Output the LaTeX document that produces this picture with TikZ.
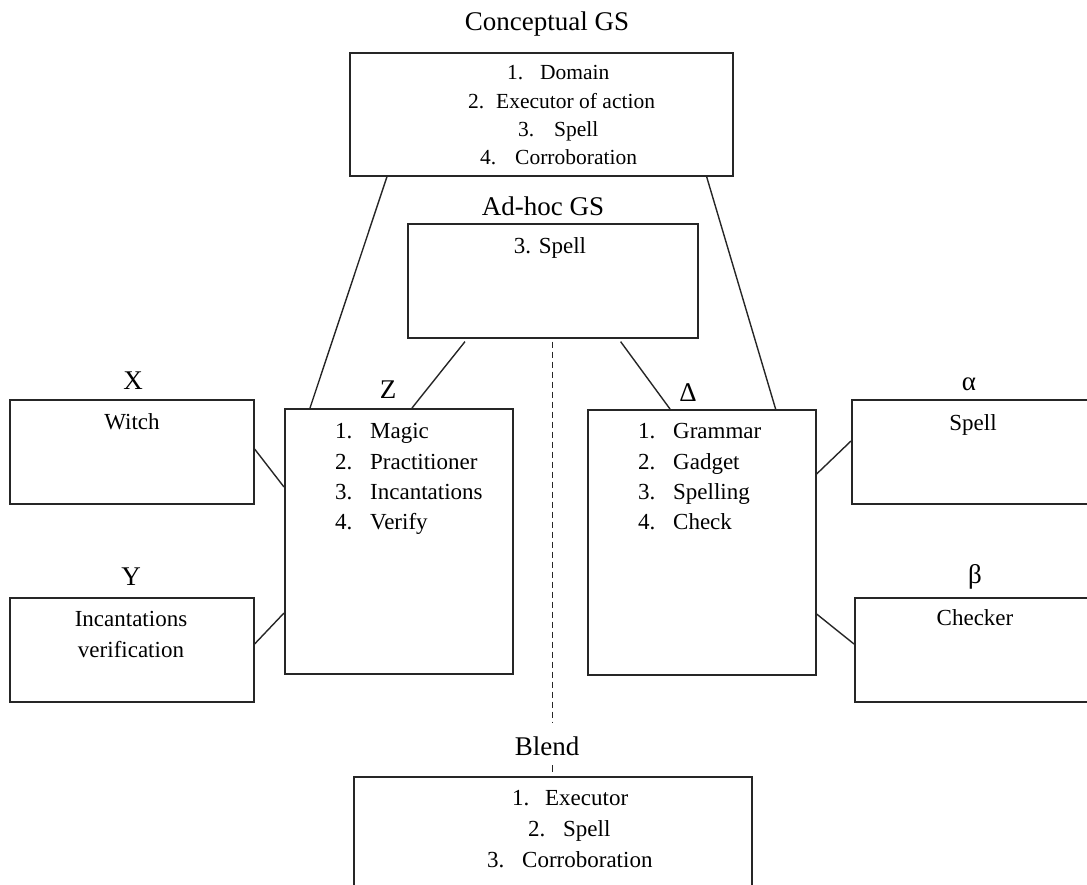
\documentclass[tikz,border=0pt]{standalone}
\usepackage{fontspec}
\setmainfont{Liberation Serif}
% a numbered list line: number in a fixed-width slot, then the text
\newcommand\numitem[3]{\makebox[#1][l]{#2}#3}
\begin{document}
\begin{tikzpicture}[x=1pt,y=-1pt,
  box/.style={draw=black!85, line width=1.6pt, inner sep=0pt, anchor=north west},
  link/.style={draw=black!85, line width=1.4pt},
  title/.style={font=\fontsize{27}{32}\selectfont, anchor=base, inner sep=0pt},
  body/.style={font=\fontsize{23}{31}\selectfont, anchor=base, inner sep=0pt, align=center},
  listline/.style={font=\fontsize{23}{31}\selectfont, anchor=base west, inner sep=0pt},
  conline/.style={font=\fontsize{21.5}{28}\selectfont, anchor=base west, inner sep=0pt}]
\clip (0,0) rectangle (1087,884);

% boxes
\node[box, minimum width=383pt, minimum height=123pt] (concept) at (349,52) {};
\node[box, minimum width=290pt, minimum height=114pt] (adhoc) at (407,223) {};
\node[box, minimum width=244pt, minimum height=104pt] (X) at (9,399) {};
\node[box, minimum width=244pt, minimum height=104pt] (Y) at (9,597) {};
\node[box, minimum width=228pt, minimum height=265pt] (Z) at (284,408) {};
\node[box, minimum width=228pt, minimum height=265pt] (D) at (587,409) {};
\node[box, minimum width=260pt, minimum height=104pt] (alpha) at (851,399) {};
\node[box, minimum width=260pt, minimum height=104pt] (beta) at (854,597) {};
\node[box, minimum width=398pt, minimum height=140pt] (blend) at (353,776) {};

% titles
\node[title] (tconcept) at (547,30) {Conceptual GS};
\node[title] (tadhoc) at (543,215) {Ad-hoc GS};
\node[title] (tX) at (133,389) {X};
\node[title] (tY) at (131,585) {Y};
\node[title] (tZ) at (388,398) {Z};
\node[title] (tD) at (688,401) {Δ};
\node[title] (talpha) at (969,390) {α};
\node[title] (tbeta) at (975,583) {β};
\node[title, inner ysep=3pt] (tblend) at (547,755) {Blend};

% box contents
\node[conline] (c1) at (507,79) {\numitem{33pt}{1.}{Domain}};
\node[conline] (c2) at (468,108) {\numitem{28pt}{2.}{Executor of action}};
\node[conline] (c3) at (518,136) {\numitem{36pt}{3.}{Spell}};
\node[conline] (c4) at (480,164) {\numitem{35pt}{4.}{Corroboration}};

\node[body] (a1) at (550,253) {3. Spell};

\node[body] (xw) at (132,429) {Witch};
\node[body] (yi) at (131,657) {Incantations\\verification};
\node[body] (as) at (973,430) {Spell};
\node[body] (bc) at (975,625) {Checker};

\node[listline] (z1) at (335,438) {\numitem{35pt}{1.}{Magic}};
\node[listline] (z2) at (335,469) {\numitem{35pt}{2.}{Practitioner}};
\node[listline] (z3) at (335,499) {\numitem{35pt}{3.}{Incantations}};
\node[listline] (z4) at (335,529) {\numitem{35pt}{4.}{Verify}};

\node[listline] (d1) at (638,438) {\numitem{35pt}{1.}{Grammar}};
\node[listline] (d2) at (638,469) {\numitem{35pt}{2.}{Gadget}};
\node[listline] (d3) at (638,499) {\numitem{35pt}{3.}{Spelling}};
\node[listline] (d4) at (638,529) {\numitem{35pt}{4.}{Check}};

\node[listline] (b1) at (512,805) {\numitem{33pt}{1.}{Executor}};
\node[listline] (b2) at (528,836) {\numitem{35pt}{2.}{Spell}};
\node[listline] (b3) at (487,867) {\numitem{35pt}{3.}{Corroboration}};

% connectors
\draw[link] ([xshift=38pt]concept.south west) -- ([xshift=26pt]Z.north west);
\draw[link] ([xshift=-27pt]concept.south east) -- ([xshift=-41pt]D.north east);
\draw[link] ([xshift=58pt,yshift=-3pt]adhoc.south west) -- ([xshift=128pt]Z.north west);
\draw[link] ([xshift=-78pt,yshift=-3pt]adhoc.south east) -- ([xshift=83pt]D.north west);
\draw[link] ([yshift=-50pt]X.north east) -- ([yshift=-79pt]Z.north west);
\draw[link] ([yshift=-47pt]Y.north east) -- ([yshift=-205pt]Z.north west);
\draw[link] ([yshift=-65pt]D.north east) -- ([yshift=-42pt]alpha.north west);
\draw[link] ([yshift=-205pt]D.north east) -- ([yshift=-47pt]beta.north west);

% dashed blend link, broken by the Blend title
\draw[link, line width=1.1pt, dash pattern=on 6pt off 4pt, shorten <=3pt, shorten >=11pt]
  (adhoc.south) -- (adhoc.south |- tblend.north);
\draw[link, line width=1.1pt, dash pattern=on 7pt off 4pt, shorten <=7pt, shorten >=4pt]
  (adhoc.south |- tblend.south) -- (blend.north);
\end{tikzpicture}
\end{document}
